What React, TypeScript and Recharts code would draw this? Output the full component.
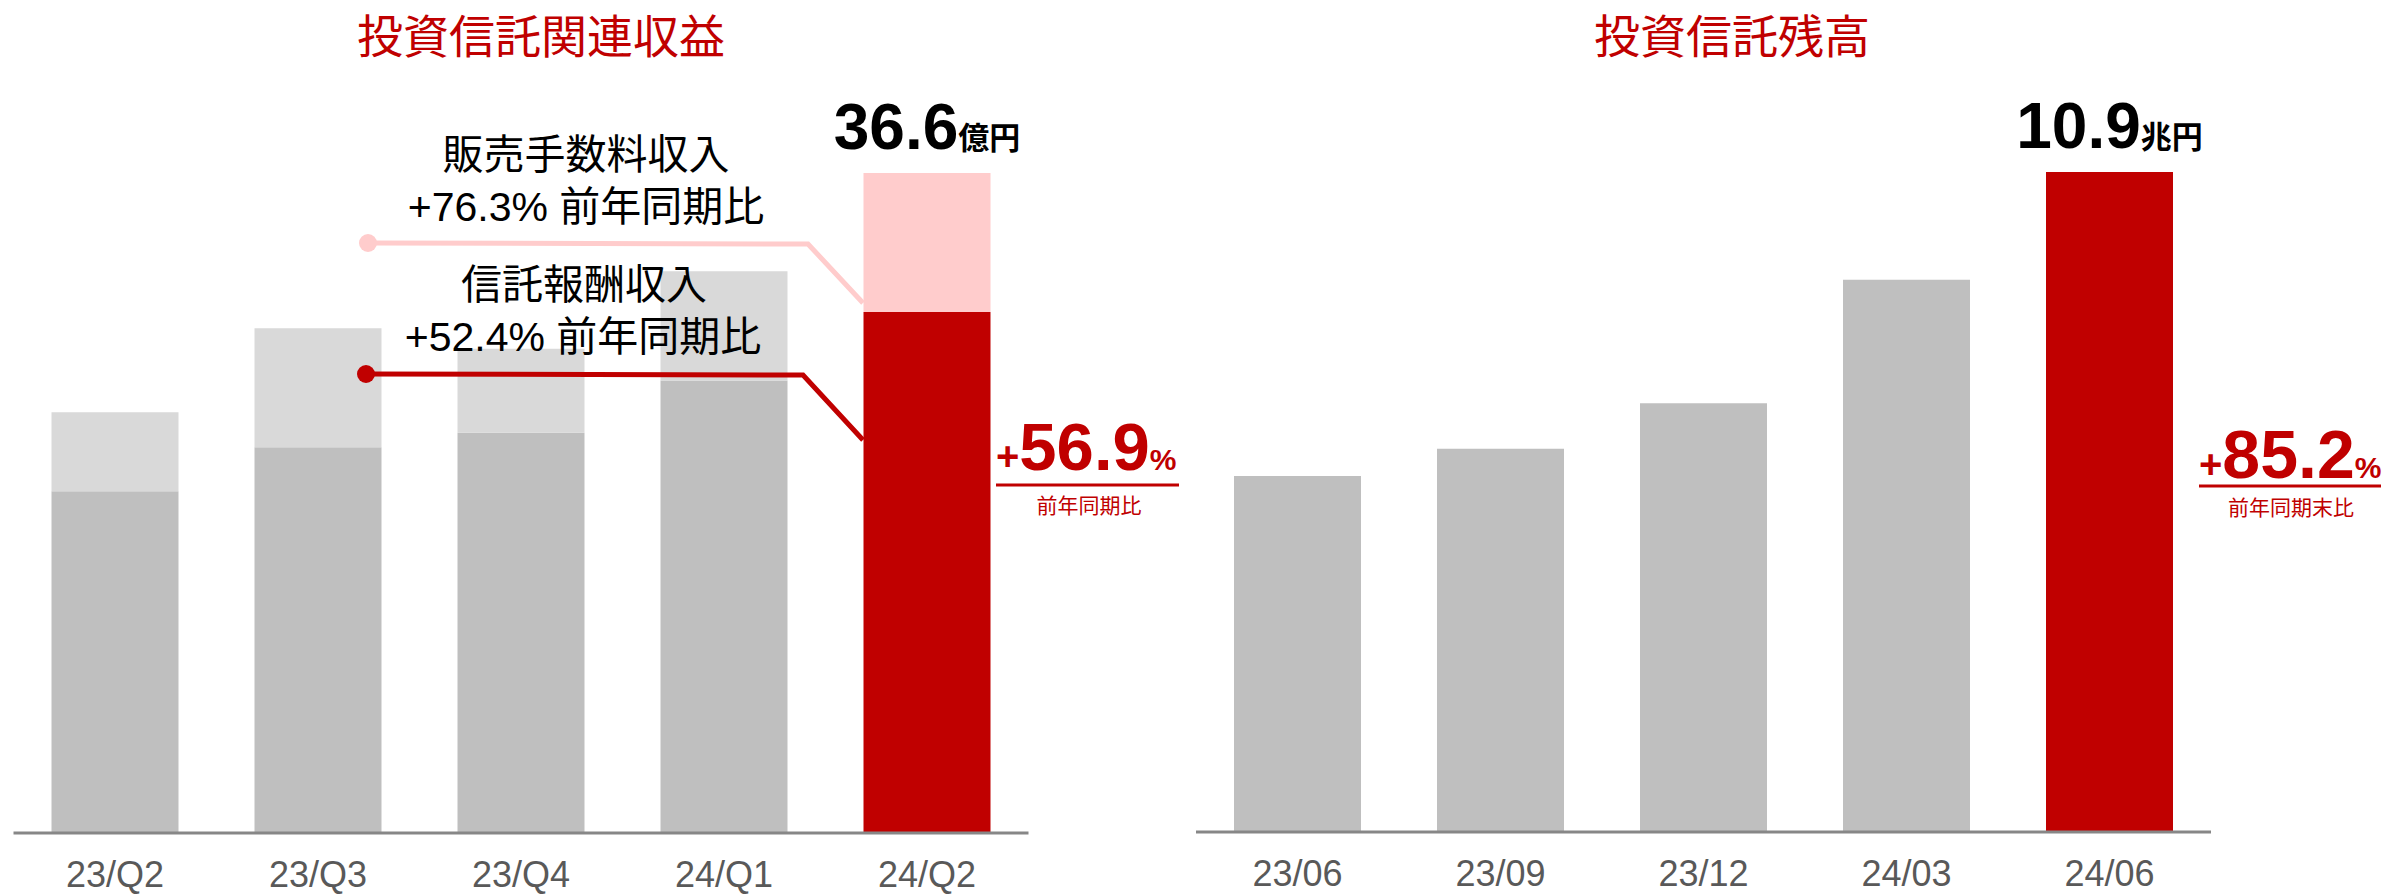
import React from 'react';
import { BarChart, Bar, XAxis, YAxis, Cell, LabelList } from 'recharts';

// 投資信託関連収益 (億円)
const quarters = ['23/Q2', '23/Q3', '23/Q4', '24/Q1', '24/Q2'];
const trustFeeIncome = [18.96, 21.4, 22.2, 25.1, 28.9]; // 信託報酬収入
const salesFeeIncome = [4.37, 6.6, 4.66, 6.05, 7.7]; // 販売手数料収入

// 投資信託残高 (兆円)
const months = ['23/06', '23/09', '23/12', '24/03', '24/06'];
const balances = [5.88, 6.33, 7.08, 9.12, 10.9];

const RED = '#C00000';
const PINK = '#FFCCCC';
const DARK_GRAY = '#BFBFBF';
const LIGHT_GRAY = '#D9D9D9';
const LATIN = '"Liberation Sans", Arial, "Noto Sans CJK JP", sans-serif';
const CJK = '"Noto Sans CJK JP", "Liberation Sans", sans-serif';

const revenueData = quarters.map((q, i) => ({
  period: q,
  trust: trustFeeIncome[i],
  sales: salesFeeIncome[i],
}));
const revenueTotals = quarters.map((_, i) => trustFeeIncome[i] + salesFeeIncome[i]);
const balanceData = months.map((m, i) => ({ period: m, balance: balances[i] }));
const last = quarters.length - 1;

const topLabel = (totals: number[], unit: string) => (props: any) => {
  const { x, y, width, index } = props;
  if (index !== totals.length - 1) return null;
  return (
    <text x={Number(x) + Number(width) / 2} y={Number(y) - 24} textAnchor="middle" fill="#000">
      <tspan fontFamily={LATIN} fontWeight={700} fontSize={64}>{totals[index].toFixed(1)}</tspan>
      <tspan fontFamily={CJK} fontWeight={700} fontSize={31}>{unit}</tspan>
    </text>
  );
};

const axisProps = {
  dataKey: 'period',
  axisLine: { stroke: '#878787', strokeWidth: 3 },
  tickLine: false,
  tickSize: 0,
  tickMargin: 28,
  height: 50,
  tick: { fill: '#595959', fontSize: 36, fontFamily: LATIN },
  interval: 0 as const,
};

export default function App() {
  return (
    <div style={{ position: 'absolute', left: 0, top: 0, width: 2387, height: 894, background: '#fff' }}>
      <div style={{ position: 'absolute', left: 0, top: 0 }}>
        <BarChart width={1040} height={894} data={revenueData}
          margin={{ top: 111.8, right: 11.5, bottom: 11, left: 13.5 }}>
          <XAxis {...axisProps} />
          <YAxis hide domain={[0, 40]} />
          <Bar dataKey="trust" stackId="a" barSize={127} isAnimationActive={false}>
            {revenueData.map((_, i) => (
              <Cell key={i} fill={i === last ? RED : DARK_GRAY} />
            ))}
          </Bar>
          <Bar dataKey="sales" stackId="a" barSize={127} isAnimationActive={false}>
            {revenueData.map((_, i) => (
              <Cell key={i} fill={i === last ? PINK : LIGHT_GRAY} />
            ))}
            <LabelList dataKey="sales" content={topLabel(revenueTotals, '億円')} />
          </Bar>
        </BarChart>
      </div>

      <div style={{ position: 'absolute', left: 1150, top: 0 }}>
        <BarChart width={1100} height={894} data={balanceData}
          margin={{ top: 105.4, right: 39, bottom: 12, left: 46 }}>
          <XAxis {...axisProps} />
          <YAxis hide domain={[0, 12]} />
          <Bar dataKey="balance" barSize={127} isAnimationActive={false}>
            {balanceData.map((_, i) => (
              <Cell key={i} fill={i === balanceData.length - 1 ? RED : DARK_GRAY} />
            ))}
            <LabelList dataKey="balance" content={topLabel(balances, '兆円')} />
          </Bar>
        </BarChart>
      </div>

      <svg width={2387} height={894} style={{ position: 'absolute', left: 0, top: 0, pointerEvents: 'none' }}>
        {/* titles */}
        <text x={541} y={53} fontSize={46} fill={RED} textAnchor="middle" fontFamily={CJK}>投資信託関連収益</text>
        <text x={1732} y={53} fontSize={46} fill={RED} textAnchor="middle" fontFamily={CJK}>投資信託残高</text>

        {/* callouts */}
        <g fontFamily={LATIN} fontSize={41} fill="#000" textAnchor="middle">
          <text x={586} y={169}>販売手数料収入</text>
          <text x={586} y={221}>+76.3% 前年同期比</text>
          <text x={584} y={299}>信託報酬収入</text>
          <text x={583} y={351}>+52.4% 前年同期比</text>
        </g>
        <polyline points="368,243 808,244 863,303" stroke={PINK} strokeWidth={5} fill="none" />
        <circle cx={368} cy={243} r={9} fill={PINK} />
        <polyline points="366,374 803,375 863,440" stroke={RED} strokeWidth={5} fill="none" />
        <circle cx={366} cy={374} r={9} fill={RED} />

        {/* YoY, left */}
        <text x={996} y={470} fill={RED} fontFamily={LATIN} fontWeight={700}>
          <tspan fontSize={40}>+</tspan>
          <tspan fontSize={67}>56.9</tspan>
          <tspan fontSize={30}>%</tspan>
        </text>
        <rect x={996} y={483.5} width={183} height={3} fill={RED} />
        <text x={1089} y={513} fontSize={21} fill={RED} textAnchor="middle" fontFamily={CJK}>前年同期比</text>

        {/* YoY, right */}
        <text x={2199} y={478} fill={RED} fontFamily={LATIN} fontWeight={700}>
          <tspan fontSize={40}>+</tspan>
          <tspan fontSize={68}>85.2</tspan>
          <tspan fontSize={30}>%</tspan>
        </text>
        <rect x={2199} y={484.5} width={182} height={3} fill={RED} />
        <text x={2291} y={515} fontSize={21} fill={RED} textAnchor="middle" fontFamily={CJK}>前年同期末比</text>
      </svg>
    </div>
  );
}
